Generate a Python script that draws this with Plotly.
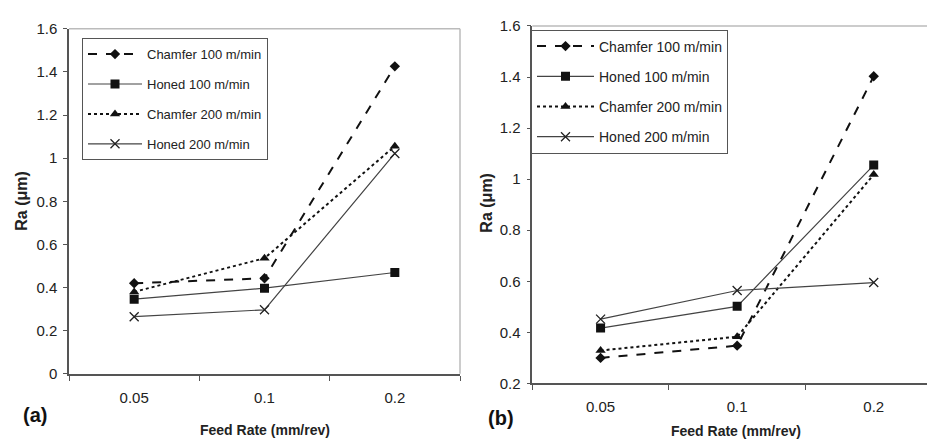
import plotly.graph_objects as go

W, H = 935, 445

categories = ["0.05", "0.1", "0.2"]
series_names = ["Chamfer 100 m/min", "Honed 100 m/min", "Chamfer 200 m/min", "Honed 200 m/min"]

# Panel (a)
a_chamfer100 = [0.42, 0.443, 1.426]
a_honed100 = [0.346, 0.397, 0.47]
a_chamfer200 = [0.38, 0.536, 1.056]
a_honed200 = [0.265, 0.297, 1.022]

# Panel (b)
b_chamfer100 = [0.30, 0.348, 1.403]
b_honed100 = [0.417, 0.502, 1.055]
b_chamfer200 = [0.329, 0.383, 1.018]
b_honed200 = [0.452, 0.564, 0.595]

y_ticks_a = [0, 0.2, 0.4, 0.6, 0.8, 1.0, 1.2, 1.4, 1.6]
y_tick_text_a = ["0", "0.2", "0.4", "0.6", "0.8", "1", "1.2", "1.4", "1.6"]
y_ticks_b = [0.2, 0.4, 0.6, 0.8, 1.0, 1.2, 1.4, 1.6]
y_tick_text_b = ["0.2", "0.4", "0.6", "0.8", "1", "1.2", "1.4", "1.6"]

styles = [
    dict(line=dict(color="#111", width=2, dash="dash"), marker=dict(symbol="diamond", size=8, color="#111")),
    dict(line=dict(color="#444", width=1.2, dash="solid"), marker=dict(symbol="square", size=9, color="#111")),
    dict(line=dict(color="#111", width=2, dash="dot"), marker=dict(symbol="triangle-up", size=9, color="#111")),
    dict(line=dict(color="#444", width=1.2, dash="solid"), marker=dict(symbol="x-thin", size=9, color="#111",
                                                                        line=dict(color="#222", width=1.3))),
]

FONT = "Liberation Sans, Arial, sans-serif"
fig = go.Figure()

for i, (name, ys) in enumerate(zip(series_names, [a_chamfer100, a_honed100, a_chamfer200, a_honed200])):
    fig.add_trace(go.Scatter(x=categories, y=ys, name=name, mode="lines+markers",
                             xaxis="x", yaxis="y", legend="legend", legendgroup="a%d" % i,
                             **styles[i]))
for i, (name, ys) in enumerate(zip(series_names, [b_chamfer100, b_honed100, b_chamfer200, b_honed200])):
    fig.add_trace(go.Scatter(x=categories, y=ys, name=name, mode="lines+markers",
                             xaxis="x2", yaxis="y2", legend="legend2", legendgroup="b%d" % i,
                             **styles[i]))

def px_x(p):
    return p / W

def px_y(p):
    return 1 - p / H

xa_common = dict(type="category", tickson="boundaries", ticks="outside", ticklen=5, tickcolor="#555",
                 showline=True, linecolor="#555", linewidth=1.5, showgrid=False, zeroline=False,
                 range=[-0.5, 2.5], tickfont=dict(size=15, color="#222", family=FONT),
                 ticklabelstandoff=9)
ya_common = dict(ticks="outside", ticklen=4, tickcolor="#555", showline=True, linecolor="#555",
                 linewidth=1.5, showgrid=False, zeroline=False,
                 tickfont=dict(size=15, color="#222", family=FONT), ticklabelstandoff=3)

fig.update_layout(
    width=W, height=H, margin=dict(l=0, r=0, t=0, b=0),
    paper_bgcolor="white", plot_bgcolor="white",
    font=dict(family=FONT, color="#222"),
    xaxis=dict(domain=[px_x(61), px_x(452)], anchor="y", **xa_common),
    yaxis=dict(domain=[px_y(371), px_y(12.3)], anchor="x", range=[0, 1.6],
               tickvals=y_ticks_a, ticktext=y_tick_text_a, **ya_common),
    xaxis2=dict(domain=[px_x(524.3), px_x(934)], anchor="y2", **xa_common),
    yaxis2=dict(domain=[px_y(381), px_y(9.3)], anchor="x2", range=[0.2, 1.6],
                tickvals=y_ticks_b, ticktext=y_tick_text_b, **ya_common),
    legend=dict(x=px_x(74), y=px_y(22), xanchor="left", yanchor="top", bgcolor="white",
                bordercolor="#555", borderwidth=1, font=dict(size=13, family=FONT, color="#222"),
                tracegroupgap=10, itemwidth=54),
    legend2=dict(x=px_x(523), y=px_y(13), xanchor="left", yanchor="top", bgcolor="white",
                 bordercolor="#555", borderwidth=1, font=dict(size=14, family=FONT, color="#222"),
                 tracegroupgap=9, itemwidth=57),
    showlegend=True,
)

# light frame (top and right edges)
for xr, yr in [("x domain", "y domain"), ("x2 domain", "y2 domain")]:
    fig.add_shape(type="line", xref=xr, yref=yr, x0=0, x1=1, y0=1, y1=1,
                  line=dict(color="#bbb", width=1.5), layer="below")
    fig.add_shape(type="line", xref=xr, yref=yr, x0=1, x1=1, y0=0, y1=1,
                  line=dict(color="#bbb", width=1.5), layer="below")

annotations = [
    dict(text="<b>Feed Rate (mm/rev)</b>", x=px_x(257), y=px_y(429), font=dict(size=14)),
    dict(text="<b>Feed Rate (mm/rev)</b>", x=px_x(728), y=px_y(430), font=dict(size=14)),
    dict(text="<b>Ra (μm)</b>", x=px_x(14), y=px_y(191), font=dict(size=16), textangle=-90),
    dict(text="<b>Ra (μm)</b>", x=px_x(479), y=px_y(193), font=dict(size=16), textangle=-90),
    dict(text="<b>(a)</b>", x=px_x(27), y=px_y(414), font=dict(size=20, color="#111")),
    dict(text="<b>(b)</b>", x=px_x(493), y=px_y(417), font=dict(size=20, color="#111")),
]
for a in annotations:
    fig.add_annotation(xref="paper", yref="paper", showarrow=False, xanchor="center", yanchor="middle",
                       **a)

fig.write_html("out.html")
